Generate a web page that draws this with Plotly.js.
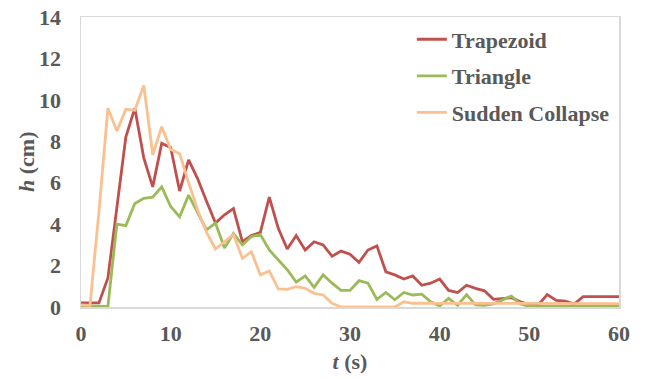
<!DOCTYPE html>
<html>
<head>
<meta charset="utf-8">
<script src="https://cdn.plot.ly/plotly-3.0.1.min.js"></script>
<style>html,body{margin:0;padding:0;background:#fff;}#chart{width:648px;height:379px;}</style>
</head>
<body>
<div id="chart"></div>
<script>
// time (s)
var time = [];
for (var i = 0; i <= 60; i++) time.push(i);

var trapezoid = [0.2, 0.2, 0.2, 1.4, 4.9, 8.2, 9.6, 7.2, 5.8, 7.9,
  7.7, 5.6, 7.1, 6.2, 5.1, 4.05, 4.45, 4.75, 3.15, 3.45,
  3.6, 5.3, 3.8, 2.8, 3.45, 2.75, 3.15, 3.0, 2.45, 2.7,
  2.55, 2.15, 2.75, 2.95, 1.7, 1.55, 1.35, 1.5, 1.05, 1.15,
  1.35, 0.8, 0.7, 1.05, 0.9, 0.78, 0.37, 0.42, 0.45, 0.25,
  0.1, 0.1, 0.6, 0.32, 0.28, 0.14, 0.5, 0.5, 0.5, 0.5, 0.5];

var triangle = [0.05, 0.05, 0.05, 0.03, 4.0, 3.93, 5.0, 5.25, 5.3, 5.8,
  4.85, 4.35, 5.4, 4.55, 3.72, 4.05, 2.85, 3.55, 3.0, 3.4,
  3.5, 2.75, 2.3, 1.8, 1.2, 1.5, 0.95, 1.55, 1.15, 0.8,
  0.8, 1.27, 1.15, 0.37, 0.7, 0.35, 0.7, 0.58, 0.62, 0.25,
  0.05, 0.42, 0.08, 0.6, 0.1, 0.08, 0.15, 0.35, 0.53, 0.15,
  0.03, 0.03, 0.03, 0.03, 0.03, 0.03, 0.03, 0.03, 0.03, 0.03, 0.03];

var suddenCollapse = [0.1, 0.08, 4.6, 9.6, 8.5, 9.55, 9.5, 10.7, 7.35, 8.7,
  7.6, 7.4, 6.0, 4.7, 3.6, 2.8, 3.15, 3.5, 2.35, 2.67,
  1.55, 1.74, 0.87, 0.85, 0.98, 0.9, 0.66, 0.58, 0.18, 0.0,
  0.0, 0.0, 0.0, 0.0, 0.0, 0.0, 0.25, 0.18, 0.18, 0.18,
  0.18, 0.18, 0.18, 0.18, 0.18, 0.18, 0.18, 0.18, 0.18, 0.18,
  0.16, 0.16, 0.16, 0.16, 0.16, 0.16, 0.16, 0.16, 0.16, 0.16, 0.16];

var seriesNames = ['Trapezoid', 'Triangle', 'Sudden Collapse'];
var seriesColors = ['#C0504D', '#9BBB59', '#FAC090'];
var seriesValues = [trapezoid, triangle, suddenCollapse];

var xTickVals = [0, 10, 20, 30, 40, 50, 60];
var yTickVals = [0, 2, 4, 6, 8, 10, 12, 14];

var FONT = 'Liberation Serif, Times New Roman, serif';
var GRAY = '#595959';

var traces = seriesNames.map(function (name, k) {
  return {
    x: time, y: seriesValues[k], name: name, type: 'scatter', mode: 'lines',
    legendgroup: 'g' + k,
    line: {color: seriesColors[k], width: 2.8}
  };
});

var layout = {
  width: 648, height: 379,
  margin: {l: 81, r: 29, t: 17, b: 72},
  paper_bgcolor: '#fff', plot_bgcolor: '#fff',
  showlegend: true,
  legend: {
    x: 0.615, y: 0.995, xanchor: 'left', yanchor: 'top',
    font: {family: FONT, size: 22, color: GRAY, weight: 'bold'},
    bgcolor: 'rgba(0,0,0,0)', tracegroupgap: 5
  },
  xaxis: {
    range: [0, 60], tickvals: xTickVals, ticks: '', showgrid: false, zeroline: false,
    showline: true, linecolor: '#D9D9D9', linewidth: 1.5, mirror: true,
    tickfont: {family: FONT, size: 22, color: GRAY, weight: 'bold'},
    ticklabelstandoff: 6,
    title: {text: '<i>t</i> (s)', font: {family: FONT, size: 22, color: GRAY, weight: 'bold'}, standoff: 8}
  },
  yaxis: {
    range: [0, 14], tickvals: yTickVals, ticks: '', showgrid: false, zeroline: false,
    showline: true, linecolor: '#D9D9D9', linewidth: 1.5, mirror: true,
    tickfont: {family: FONT, size: 22, color: GRAY, weight: 'bold'},
    ticklabelstandoff: 14
  },
  annotations: [{
    text: '<i>h</i> (cm)', xref: 'paper', yref: 'paper', x: 0, y: 0.5,
    xanchor: 'center', yanchor: 'middle', xshift: -55, textangle: -90, showarrow: false,
    font: {family: FONT, size: 22, color: GRAY, weight: 'bold'}
  }]
};

Plotly.newPlot('chart', traces, layout, {displayModeBar: false, staticPlot: true});
</script>
</body>
</html>
